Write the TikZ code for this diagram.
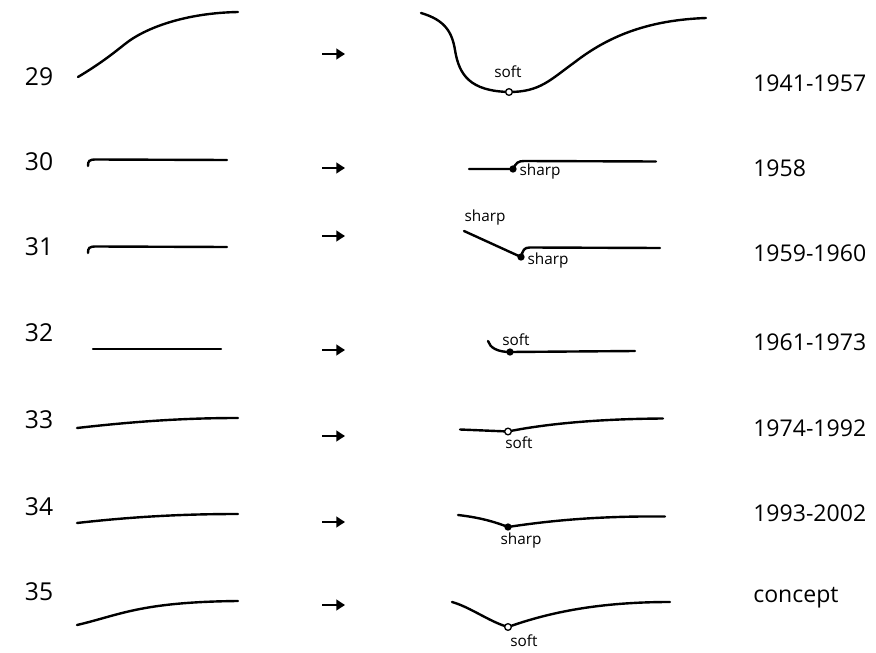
\documentclass[tikz,border=0pt]{standalone}
\usepackage{fontspec}
\setmainfont{Open Sans}
\usetikzlibrary{arrows.meta}

\tikzset{
  curve/.style={line width=1.8pt, line cap=round},
  arr/.style={line width=2.2pt, -{Triangle[length=6.5pt,width=8pt]}},
  softmark/.style={circle, draw, line width=1pt, fill=white, inner sep=0pt, minimum size=5pt},
  sharpmark/.style={circle, fill=black, inner sep=0pt, minimum size=5.5pt},
  rownum/.style={anchor=center, inner sep=0.75pt, font=\fontsize{18.5}{20}\selectfont},
  yearlbl/.style={anchor=west, inner sep=0.75pt, font=\fontsize{17.3}{19}\selectfont},
  kindlbl/.style={anchor=center, inner sep=0.75pt, font=\fontsize{11.5}{13}\selectfont},
}

\begin{document}
\begin{tikzpicture}[x=0.75pt,y=0.75pt,yscale=-1,xscale=1]
\useasboundingbox (0,0) rectangle (876,653);

% Row numbers
\draw (39,76.5) node [rownum] (n29) {29};
\draw (39,162) node [rownum] (n30) {30};
\draw (39,247) node [rownum] (n31) {31};
\draw (39,333) node [rownum] (n32) {32};
\draw (39,420) node [rownum] (n33) {33};
\draw (39,507) node [rownum] (n34) {34};
\draw (39,592) node [rownum] (n35) {35};

% Years
\draw (752,83) node [yearlbl] (y29) {1941-1957};
\draw (752,168) node [yearlbl] (y30) {1958};
\draw (752,253) node [yearlbl] (y31) {1959-1960};
\draw (752,342) node [yearlbl] (y32) {1961-1973};
\draw (752,428) node [yearlbl] (y33) {1974-1992};
\draw (752,513) node [yearlbl] (y34) {1993-2002};
\draw (752,598) node [yearlbl] (y35) {concept};

% Arrows
\coordinate (a29) at (322,54);
\coordinate (a30) at (322,168);
\coordinate (a31) at (322,236);
\coordinate (a32) at (322,350);
\coordinate (a33) at (322,436);
\coordinate (a34) at (322,522);
\coordinate (a35) at (322,605);
\foreach \r in {29,...,35}
  \draw [arr] (a\r) -- ++(23,0);

% Left profiles
\draw [curve] (78,77) .. controls (98,65) and (110,56) .. (125,44) .. controls (145,28) and (185,13) .. (238,12);
\draw [curve] (88,166) .. controls (88,161) and (89,159.5) .. (96,159.5) -- (227,160);
\draw [curve] (88,253) .. controls (88,248) and (89,246.5) .. (96,246.5) -- (227,247);
\draw [curve] (93,349) -- (221,349);
\draw [curve] (77,428) .. controls (130,422) and (180,418) .. (238,418);
\draw [curve] (77,523) .. controls (130,517) and (180,514) .. (238,514);
\draw [curve] (77,625) .. controls (120,615) and (140,602) .. (238,601);

% Right profiles
\draw [curve] (421,13) .. controls (445,20) and (452,32) .. (455,50) .. controls (459,75) and (470,91) .. (509,92) .. controls (540,92) and (550,80) .. (575,62) .. controls (610,35) and (650,20) .. (706,18);
\draw [curve] (469,169) -- (513,169) .. controls (516,163) and (518,161) .. (524,161) -- (656,161.5);
\draw [curve] (464,231) -- (521,257) .. controls (523,250) and (524,247.5) .. (530,247.5) -- (660,248);
\draw [curve] (488,341) .. controls (490,348) and (498,352) .. (510,352) -- (635,351);
\draw [curve] (460,429.5) -- (508,431.5) .. controls (540,425) and (590,419) .. (663,418.5);
\draw [curve] (458,515) .. controls (475,517) and (490,520) .. (508,527) .. controls (560,519) and (610,516) .. (665,516.5);
\draw [curve] (452,602) .. controls (470,607) and (490,622) .. (508,627) .. controls (550,612) and (600,602) .. (670,602);

% Break points
\draw (509,92) node [softmark] (m29) {};
\draw (513,169) node [sharpmark] (m30) {};
\draw (521,257) node [sharpmark] (m31) {};
\draw (510,352) node [sharpmark] (m32) {};
\draw (508,431.5) node [softmark] (m33) {};
\draw (508,527) node [sharpmark] (m34) {};
\draw (508,627) node [softmark] (m35) {};

% Text Node
\draw (508,72) node [kindlbl] (k29) {soft};
\draw (540,172) node [kindlbl] (k30) {sharp};
\draw (485,218) node [kindlbl] (k31a) {sharp};
\draw (548,261) node [kindlbl] (k31b) {sharp};
\draw (516,340) node [kindlbl] (k32) {soft};
\draw (519,443) node [kindlbl] (k33) {soft};
\draw (521,541) node [kindlbl] (k34) {sharp};
\draw (524,641) node [kindlbl] (k35) {soft};

\end{tikzpicture}
\end{document}
